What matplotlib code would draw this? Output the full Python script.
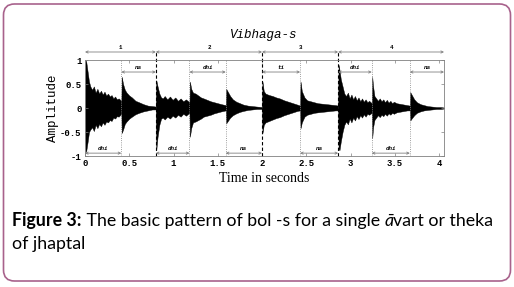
import numpy as np
import matplotlib
matplotlib.use("Agg")
import matplotlib.pyplot as plt
from matplotlib.patches import FancyBboxPatch

# stroke onsets (s) and bol names
onsets = [0.0, 0.41, 0.80, 1.18, 1.59, 2.00, 2.43, 2.86, 3.24, 3.67]
bols = ["dhi", "na", "dhi", "dhi", "na", "ti", "na", "dhi", "dhi", "na"]
bol_side = ["bot", "top", "bot", "top", "bot", "top", "bot", "top", "bot", "top"]
t_end = 4.056

vibhaga_bounds = [0.0, 0.80, 2.00, 2.86, t_end]
vibhaga_names = ["1", "2", "3", "4"]

# envelope of each stroke: time after onset, upper peak, lower peak (magnitude)
env_t = [
    [0, 0.005, 0.015, 0.03, 0.045, 0.06, 0.08, 0.1, 0.12, 0.14, 0.16, 0.18, 0.2, 0.22, 0.24, 0.26, 0.28, 0.30, 0.32, 0.34, 0.36, 0.38, 0.41],
    [0, 0.005, 0.02, 0.04, 0.06, 0.09, 0.12, 0.16, 0.2, 0.25, 0.3, 0.35, 0.39],
    [0, 0.005, 0.02, 0.04, 0.06, 0.08, 0.1, 0.13, 0.16, 0.19, 0.22, 0.25, 0.28, 0.31, 0.34, 0.38],
    [0, 0.005, 0.02, 0.04, 0.07, 0.1, 0.13, 0.16, 0.2, 0.24, 0.28, 0.32, 0.36, 0.41],
    [0, 0.005, 0.02, 0.05, 0.08, 0.12, 0.16, 0.2, 0.25, 0.3, 0.35, 0.41],
    [0, 0.005, 0.02, 0.04, 0.08, 0.12, 0.16, 0.2, 0.25, 0.3, 0.35, 0.4, 0.43],
    [0, 0.005, 0.02, 0.05, 0.08, 0.12, 0.16, 0.2, 0.25, 0.3, 0.35, 0.4, 0.43],
    [0, 0.005, 0.015, 0.03, 0.05, 0.07, 0.09, 0.11, 0.13, 0.15, 0.17, 0.19, 0.21, 0.23, 0.25, 0.27, 0.29, 0.31, 0.33, 0.35, 0.38],
    [0, 0.005, 0.015, 0.03, 0.05, 0.07, 0.09, 0.11, 0.13, 0.15, 0.17, 0.19, 0.21, 0.23, 0.25, 0.28, 0.31, 0.34, 0.37, 0.4, 0.43],
    [0, 0.005, 0.02, 0.05, 0.08, 0.12, 0.16, 0.2, 0.25, 0.3, 0.35, 0.386],
]
env_up = [
    [0.2, 1.0, 0.95, 0.75, 0.55, 0.45, 0.38, 0.45, 0.32, 0.4, 0.3, 0.36, 0.28, 0.34, 0.26, 0.3, 0.24, 0.27, 0.2, 0.24, 0.18, 0.2, 0.15],
    [0.05, 0.65, 0.5, 0.38, 0.32, 0.26, 0.22, 0.15, 0.12, 0.08, 0.05, 0.04, 0.03],
    [0.05, 0.58, 0.45, 0.3, 0.22, 0.2, 0.25, 0.18, 0.24, 0.17, 0.22, 0.15, 0.2, 0.14, 0.18, 0.12],
    [0.05, 0.55, 0.4, 0.32, 0.3, 0.26, 0.22, 0.2, 0.17, 0.14, 0.12, 0.1, 0.08, 0.06],
    [0.05, 0.4, 0.35, 0.25, 0.18, 0.13, 0.1, 0.07, 0.05, 0.04, 0.03, 0.02],
    [0.05, 0.55, 0.35, 0.3, 0.27, 0.25, 0.22, 0.2, 0.16, 0.13, 0.1, 0.07, 0.05],
    [0.05, 0.55, 0.35, 0.22, 0.16, 0.14, 0.12, 0.1, 0.09, 0.08, 0.07, 0.06, 0.05],
    [0.1, 0.9, 0.8, 0.6, 0.45, 0.3, 0.25, 0.32, 0.2, 0.28, 0.18, 0.25, 0.16, 0.22, 0.14, 0.2, 0.13, 0.18, 0.12, 0.15, 0.1],
    [0.05, 0.65, 0.45, 0.25, 0.2, 0.15, 0.2, 0.14, 0.18, 0.12, 0.17, 0.11, 0.15, 0.1, 0.13, 0.1, 0.09, 0.08, 0.07, 0.06, 0.05],
    [0.05, 0.33, 0.28, 0.18, 0.12, 0.08, 0.06, 0.04, 0.03, 0.02, 0.02, 0.01],
]
env_dn = [
    [0.2, 0.92, 0.88, 0.7, 0.5, 0.45, 0.4, 0.48, 0.35, 0.42, 0.33, 0.38, 0.3, 0.35, 0.28, 0.3, 0.25, 0.27, 0.2, 0.22, 0.17, 0.18, 0.12],
    [0.05, 0.52, 0.45, 0.33, 0.28, 0.22, 0.18, 0.13, 0.1, 0.07, 0.05, 0.03, 0.03],
    [0.05, 0.88, 0.6, 0.35, 0.22, 0.2, 0.24, 0.18, 0.22, 0.16, 0.2, 0.14, 0.18, 0.12, 0.16, 0.1],
    [0.05, 0.6, 0.42, 0.3, 0.28, 0.25, 0.22, 0.18, 0.16, 0.14, 0.11, 0.09, 0.07, 0.05],
    [0.05, 0.32, 0.28, 0.2, 0.15, 0.11, 0.08, 0.06, 0.04, 0.03, 0.02, 0.02],
    [0.05, 0.52, 0.35, 0.3, 0.27, 0.24, 0.21, 0.19, 0.15, 0.12, 0.09, 0.06, 0.05],
    [0.05, 0.42, 0.3, 0.18, 0.14, 0.12, 0.1, 0.09, 0.08, 0.07, 0.06, 0.05, 0.05],
    [0.1, 0.85, 0.88, 0.7, 0.5, 0.35, 0.28, 0.34, 0.22, 0.3, 0.2, 0.26, 0.17, 0.23, 0.15, 0.2, 0.13, 0.18, 0.12, 0.14, 0.1],
    [0.05, 0.63, 0.4, 0.25, 0.2, 0.15, 0.19, 0.14, 0.17, 0.12, 0.16, 0.11, 0.14, 0.1, 0.12, 0.09, 0.08, 0.07, 0.06, 0.05, 0.05],
    [0.05, 0.26, 0.22, 0.15, 0.1, 0.07, 0.05, 0.04, 0.03, 0.02, 0.02, 0.01],
]

xticks = [0, 0.5, 1, 1.5, 2, 2.5, 3, 3.5, 4]
yticks = [-1, -0.5, 0, 0.5, 1]

mono = "Liberation Mono"
fig = plt.figure(figsize=(5.14, 2.87), dpi=100)

# background layer in pixel units: border and caption
bg = fig.add_axes([0, 0, 1, 1], zorder=0)
bg.set_xlim(0, 514)
bg.set_ylim(287, 0)
bg.axis("off")
bg.add_patch(FancyBboxPatch((3.5, 4), 507, 277, boxstyle="round,pad=0,rounding_size=11",
                            fc="none", ec="#a8628c", lw=1.2))

ax = fig.add_axes([0.1654, 0.4564, 0.6984, 0.3345], zorder=1)
ax.patch.set_alpha(0)

for on, tt, up, dn in zip(onsets, env_t, env_up, env_dn):
    t = on + np.array(tt)
    ax.fill_between(t, up, -np.array(dn), color="black", lw=0.3, edgecolor="black")

ax.set_xlim(0, t_end)
ax.set_ylim(-1, 1)
ax.set_xticks(xticks)
ax.set_xticklabels([f"{v:g}" for v in xticks])
ax.set_yticks(yticks)
ax.set_yticklabels([f"{v:g}" for v in yticks])
ax.tick_params(direction="in", length=2.5, width=0.5, color="gray", top=True, right=True,
               labelsize=6.5, pad=2.5)
for lab in ax.get_xticklabels() + ax.get_yticklabels():
    lab.set_family(mono)
    lab.set_weight("bold")
for s in ax.spines.values():
    s.set_color("gray")
    s.set_linewidth(0.6)

# bol boundaries and arrows
bol_ends = onsets[1:] + [t_end]
arrow_kw = dict(arrowstyle="<->", color="gray", lw=0.6, shrinkA=0, shrinkB=0, mutation_scale=4)
for b in onsets[1:]:
    if b not in vibhaga_bounds:
        ax.axvline(b, color="gray", ls=":", lw=0.6)
for s0, s1, name, side in zip(onsets, bol_ends, bols, bol_side):
    ya, yl = (0.75, 0.84) if side == "top" else (-0.94, -0.84)
    ax.annotate("", xy=(s1, ya), xytext=(s0, ya), arrowprops=arrow_kw, annotation_clip=False)
    ax.text((s0 + s1) / 2, yl, name, ha="center", va="center", fontsize=4.2,
            family=mono, style="italic", weight="bold")

# vibhaga boundaries and arrows
for b in vibhaga_bounds[1:-1]:
    ax.plot([b, b], [-1, 1.17], color="black", ls=(0, (3, 2)), lw=0.8, clip_on=False)
for v0, v1, name in zip(vibhaga_bounds[:-1], vibhaga_bounds[1:], vibhaga_names):
    ax.annotate("", xy=(v1, 1.167), xytext=(v0, 1.167), arrowprops=arrow_kw, annotation_clip=False)
    ax.text((v0 + v1) / 2, 1.26, name, ha="center", va="center", fontsize=4.2,
            family=mono, weight="bold", clip_on=False)

bg.text(264, 35, "Vibhaga-s", ha="center", va="center", fontsize=9, family=mono, style="italic")
bg.text(53, 108, "Amplitude", ha="center", va="center", rotation=90, fontsize=9, family=mono)
bg.text(264, 178, "Time in seconds", ha="center", va="center", fontsize=10, family="Liberation Serif")

# caption
cap = "Lato"
cs = 12.8
t1 = bg.text(12, 226, "Figure 3:", fontsize=cs, family=cap, weight="bold", va="baseline")
t2 = bg.annotate(" The basic pattern of bol -s for a single ", xy=(1, 0), xycoords=t1,
                 va="bottom", fontsize=cs, family=cap)
t3 = bg.annotate("ā", xy=(1, 0), xycoords=t2, va="bottom", fontsize=cs, family=cap, style="italic")
t4 = bg.annotate("vart or theka", xy=(1, 0), xycoords=t3, va="bottom", fontsize=cs, family=cap)
bg.text(12, 249, "of jhaptal", fontsize=cs, family=cap, va="baseline")

fig.savefig("out.png", dpi=100)
